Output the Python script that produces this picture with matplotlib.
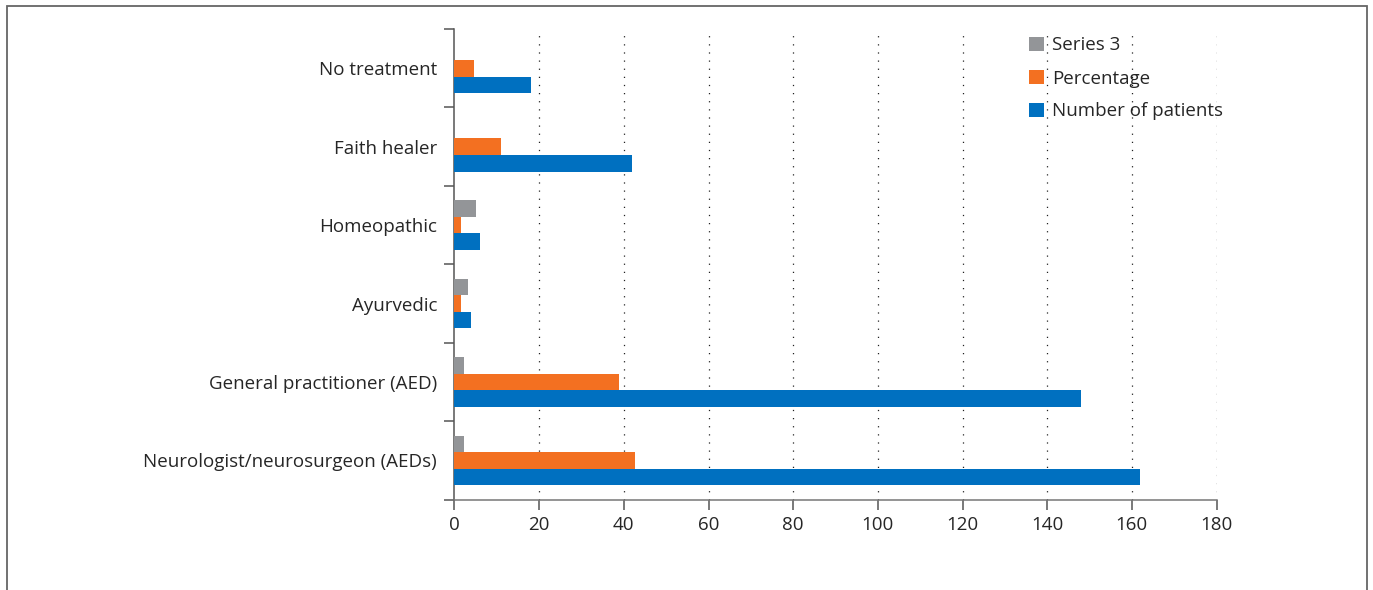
import matplotlib
matplotlib.use("Agg")
import matplotlib.pyplot as plt
from matplotlib.patches import Rectangle
import numpy as np

# Treatment sought, listed bottom to top
categories = [
    "Neurologist/neurosurgeon (AEDs)",
    "General practitioner (AED)",
    "Ayurvedic",
    "Homeopathic",
    "Faith healer",
    "No treatment",
]
patients = [162, 148, 4, 6, 42, 18]
percentage = [42.6, 38.9, 1.6, 1.6, 11.1, 4.7]
series3 = [2.2, 2.2, 3.2, 5.1, 0, 0]
x_ticks = [0, 20, 40, 60, 80, 100, 120, 140, 160, 180]

BLUE = "#0070C0"
ORANGE = "#F37021"
GREY = "#939598"
TEXT = "#262626"

plt.rcParams["font.family"] = ["Open Sans", "DejaVu Sans"]
FS = 13.5

fig = plt.figure(figsize=(13.73, 5.90), dpi=100)
ax = fig.add_axes([454.5 / 1373, 90.3 / 590, 762 / 1373, 470.7 / 590])

y = np.arange(len(categories))
h = 0.211
ax.barh(y - h, patients, height=h, color=BLUE, label="Number of patients", zorder=3)
ax.barh(y, percentage, height=h, color=ORANGE, label="Percentage", zorder=3)
ax.barh(y + h, series3, height=h, color=GREY, label="Series 3", zorder=3)

ax.set_xlim(0, 180)
ax.set_ylim(-0.5, len(categories) - 0.5)

# dotted vertical gridlines
for xv in x_ticks[1:]:
    ax.axvline(xv, color="#222222", lw=0.9, linestyle=(0, (1, 5.5)), zorder=1)

ax.set_xticks(x_ticks)
ax.set_xticklabels([str(v) for v in x_ticks], fontsize=FS, color=TEXT)
ax.tick_params(axis="x", direction="out", length=7, width=1.1, color="#555555", pad=5)

ax.set_yticks(y)
ax.set_yticklabels(categories, fontsize=FS, color=TEXT)
ax.tick_params(axis="y", which="major", length=0, pad=12.5)
ax.set_yticks(np.arange(-0.5, len(categories)), minor=True)
ax.tick_params(axis="y", which="minor", direction="out", length=7, width=1.1, color="#555555")

for side in ("top", "right"):
    ax.spines[side].set_visible(False)
ax.spines["left"].set_color("#555555")
ax.spines["left"].set_linewidth(1.1)
ax.spines["bottom"].set_color("#777777")
ax.spines["bottom"].set_linewidth(1.1)

handles, labels = ax.get_legend_handles_labels()
leg = ax.legend(handles[::-1], labels[::-1], loc="upper left",
                bbox_to_anchor=(1021 / 1373, 561 / 590), bbox_transform=fig.transFigure,
                frameon=False, fontsize=FS, handlelength=0.8, handleheight=0.8,
                handletextpad=0.45, labelspacing=0.8, borderaxespad=0)
for t in leg.get_texts():
    t.set_color(TEXT)

# outer frame
fig.patches.append(Rectangle((7 / 1373, -0.01), 1359.5 / 1373, (590 - 6) / 590 + 0.01,
                             transform=fig.transFigure, fill=False,
                             edgecolor="#666666", lw=1.3, zorder=0))

fig.savefig("out.png", dpi=100)
